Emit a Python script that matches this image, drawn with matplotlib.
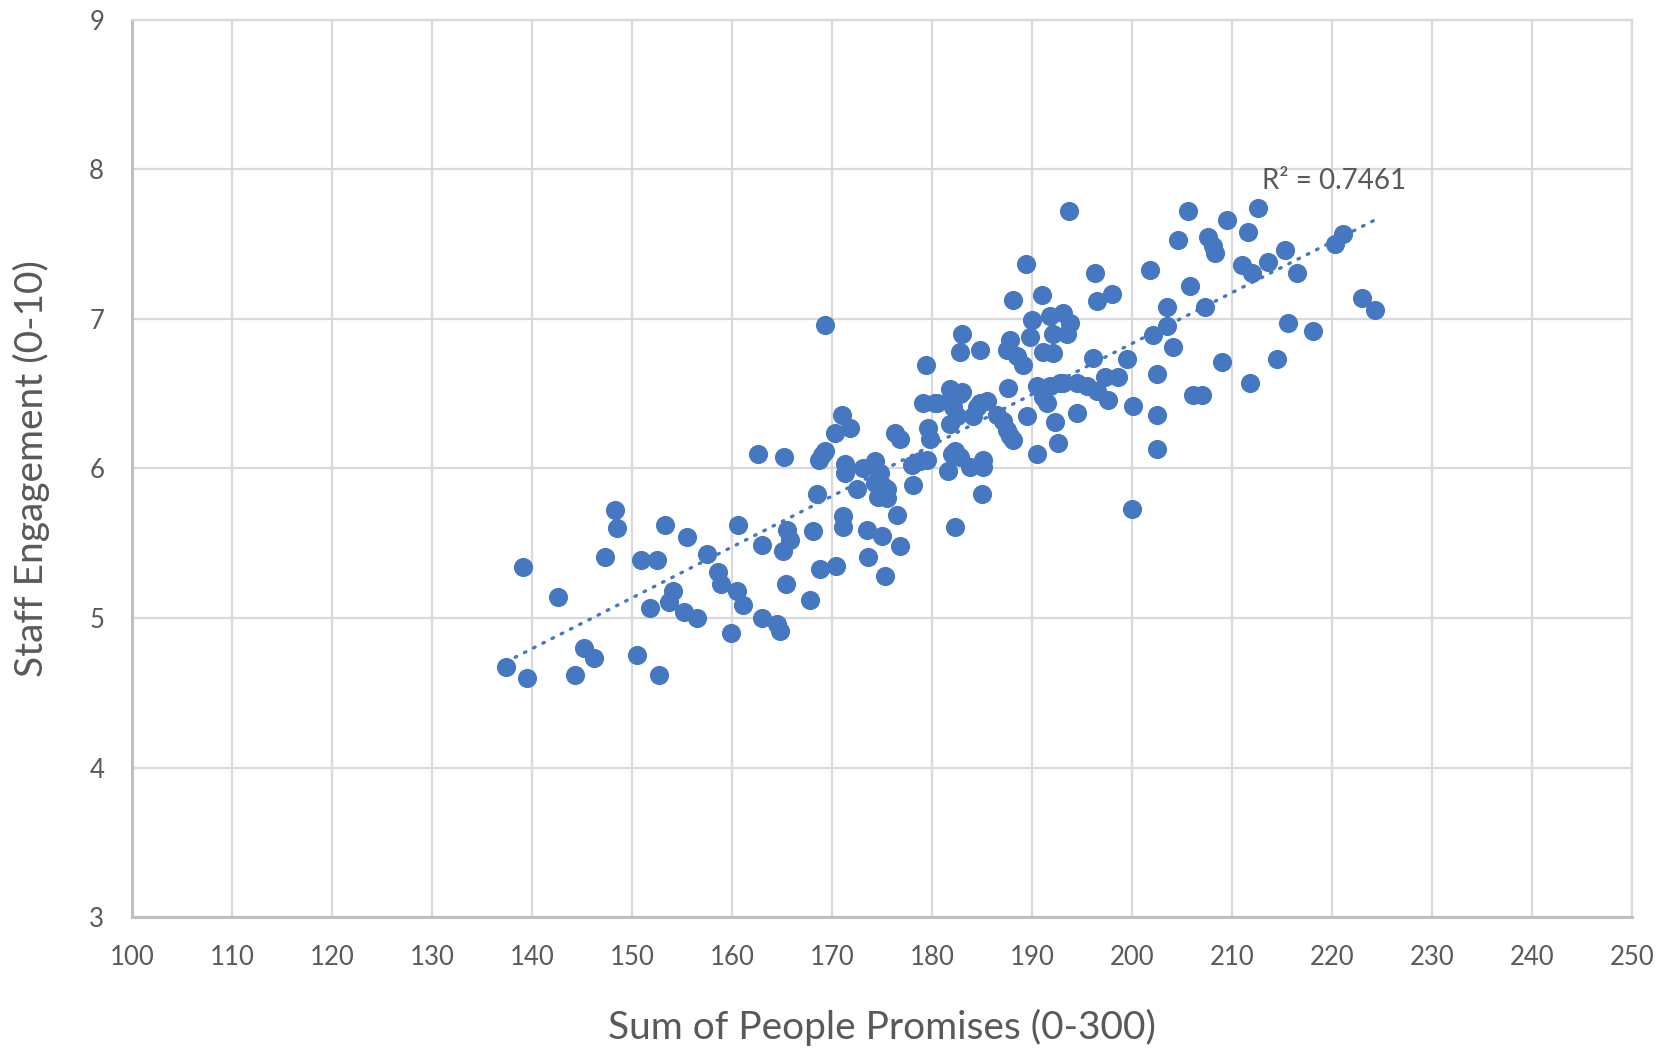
import numpy as np
import matplotlib
matplotlib.use("Agg")
import matplotlib.pyplot as plt

plt.rcParams['font.family'] = ['Lato', 'DejaVu Sans']

# sum of people promises (0-300)
promises = [
    137.4, 139.5, 139.1, 142.6, 144.3, 145.2, 146.2, 147.3, 148.3, 148.5,
    150.5, 150.9, 152.5, 151.8, 152.7, 153.3, 154.1, 153.7, 155.2, 155.5,
    156.5, 157.5, 158.6, 158.9, 159.9, 160.6, 161.1, 160.5,
    162.6, 163.0, 163.0, 164.5, 164.8, 165.2, 165.5, 165.8, 165.1, 165.4,
    167.8, 168.1, 168.5, 168.8, 170.4, 168.7, 169.0, 169.3, 169.3, 171.0,
    170.3, 171.8, 171.3, 171.3, 171.1, 171.1, 173.1, 174.3, 172.5, 174.8,
    174.3, 175.1, 174.6, 175.5, 175.5, 176.3, 176.8, 176.5, 176.8, 175.3,
    175.0, 173.5, 173.6, 178.1, 178.0, 178.8, 179.5, 179.6, 179.8, 179.1,
    180.3, 179.4,
    182.3, 185.0, 181.6, 182.0, 182.3, 182.8, 183.8, 185.1, 185.1, 181.8,
    183.0, 182.1, 182.5, 181.8, 184.1, 184.5, 185.5, 184.8, 180.5, 181.8,
    182.8, 186.5, 187.1, 187.5, 187.8, 188.1, 189.5, 190.5, 192.3, 192.6,
    187.6, 190.5, 191.1, 191.8, 192.8, 193.1, 191.5, 183.0, 182.8, 184.8,
    187.5, 187.8, 188.5, 189.1, 189.8, 190.0, 191.8, 193.1, 193.8, 193.5,
    192.1, 191.1, 192.1, 188.1, 191.0, 189.4, 193.7, 194.5, 195.5, 194.5,
    196.3, 196.5, 198.0, 196.1, 199.5, 197.3, 198.6, 196.5, 197.6, 200.1,
    200.0, 202.5, 202.5, 202.5, 201.8, 202.1, 203.5, 203.5, 204.1, 204.6,
    205.6, 205.8, 207.3, 209.0, 206.1, 207.0, 207.6, 208.1, 208.3, 209.5,
    211.6, 212.6, 211.0, 212.0, 213.6, 215.3, 216.5, 211.8, 214.5, 215.6,
    218.1, 220.3, 221.1, 223.0, 224.3,
]

# staff engagement (0-10)
engagement = [
    4.67, 4.60, 5.34, 5.14, 4.62, 4.80, 4.73, 5.41, 5.72, 5.60,
    4.75, 5.39, 5.39, 5.07, 4.62, 5.62, 5.18, 5.11, 5.04, 5.54,
    5.00, 5.43, 5.31, 5.23, 4.90, 5.62, 5.09, 5.18,
    6.10, 5.49, 5.00, 4.96, 4.91, 6.08, 5.59, 5.52, 5.45, 5.23,
    5.12, 5.58, 5.83, 5.33, 5.35, 6.06, 6.09, 6.12, 6.96, 6.36,
    6.24, 6.27, 6.03, 5.97, 5.68, 5.61, 6.00, 6.05, 5.86, 5.97,
    5.90, 5.88, 5.81, 5.80, 5.86, 6.24, 6.20, 5.69, 5.48, 5.28,
    5.55, 5.59, 5.41, 5.89, 6.02, 6.05, 6.06, 6.27, 6.20, 6.44,
    6.44, 6.69,
    5.61, 5.83, 5.98, 6.10, 6.12, 6.08, 6.01, 6.06, 6.01, 6.53,
    6.51, 6.41, 6.35, 6.30, 6.35, 6.41, 6.45, 6.44, 6.44, 6.46,
    6.50, 6.36, 6.32, 6.26, 6.22, 6.19, 6.35, 6.10, 6.31, 6.17,
    6.54, 6.55, 6.48, 6.55, 6.57, 6.57, 6.44, 6.90, 6.78, 6.79,
    6.79, 6.86, 6.75, 6.69, 6.88, 6.99, 7.02, 7.04, 6.97, 6.90,
    6.90, 6.78, 6.77, 7.13, 7.16, 7.37, 7.72, 6.57, 6.55, 6.37,
    7.31, 7.12, 7.17, 6.74, 6.73, 6.61, 6.61, 6.52, 6.46, 6.42,
    5.73, 6.63, 6.36, 6.13, 7.33, 6.89, 6.95, 7.08, 6.81, 7.53,
    7.72, 7.22, 7.08, 6.71, 6.49, 6.49, 7.55, 7.49, 7.44, 7.66,
    7.58, 7.74, 7.36, 7.31, 7.38, 7.46, 7.31, 6.57, 6.73, 6.97,
    6.92, 7.50, 7.57, 7.14, 7.06,
]

x_ticks = list(range(100, 251, 10))
y_ticks = list(range(3, 10))
r2_label = "R² = 0.7461"

blue = "#4677C1"
grid_c = "#D9D9D9"
txt_c = "#595959"

fig = plt.figure(figsize=(16.66, 10.49), dpi=100)
ax = fig.add_axes([0.0792, 0.1258, 0.9004, 0.8552])

ax.scatter(promises, engagement, s=190, color=blue, linewidths=0, zorder=3)

# linear trendline over the data range
xs = np.array(promises)
ys = np.array(engagement)
k, b = np.polyfit(xs, ys, 1)
xl = np.array([xs.min(), xs.max()])
ax.plot(xl, k * xl + b, color=blue, lw=2.4, ls=(0, (0.5, 2.6)),
        dash_capstyle="round", zorder=4)
ax.text(213.0, 7.92, r2_label, color=txt_c, fontsize=20, ha="left", va="center")

ax.set_xlim(100, 250)
ax.set_ylim(3, 9)
ax.set_xticks(x_ticks)
ax.set_yticks(y_ticks)
ax.grid(True, color=grid_c, lw=1.6, zorder=0)
ax.set_axisbelow(True)
ax.tick_params(length=0, labelsize=18.5, labelcolor=txt_c, pad=20)

for side in ("top", "right"):
    ax.spines[side].set_color(grid_c)
    ax.spines[side].set_linewidth(1.6)
for side in ("left", "bottom"):
    ax.spines[side].set_color("#BFBFBF")
    ax.spines[side].set_linewidth(2.2)

ax.set_xlabel("Sum of People Promises (0-300)", fontsize=28, color=txt_c, labelpad=28)
ax.set_ylabel("Staff Engagement (0-10)", fontsize=28, color=txt_c, labelpad=28)

fig.savefig("out.png", dpi=100, facecolor="white")
